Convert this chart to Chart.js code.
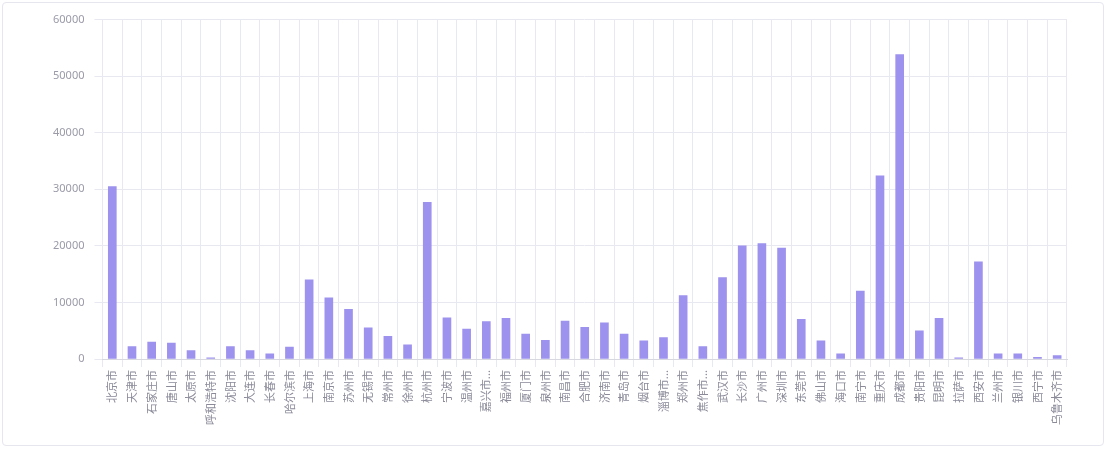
<!DOCTYPE html><html><head><meta charset="utf-8"><script src="https://cdn.jsdelivr.net/npm/chart.js@4"></script>
<style>body{margin:0;background:#fff}#w{position:absolute;left:2px;top:2px;width:1102px;height:444px;border:1px solid #e6e6ee;border-radius:4px;box-sizing:border-box}</style></head><body><div id="w"><canvas id="c"></canvas></div>
<script>
const categories=["北京市","天津市","石家庄市","唐山市","太原市","呼和浩特市","沈阳市","大连市","长春市","哈尔滨市","上海市","南京市","苏州市","无锡市","常州市","徐州市","杭州市","宁波市","温州市","嘉兴市...","福州市","厦门市","泉州市","南昌市","合肥市","济南市","青岛市","烟台市","淄博市...","郑州市","焦作市...","武汉市","长沙市","广州市","深圳市","东莞市","佛山市","海口市","南宁市","重庆市","成都市","贵阳市","昆明市","拉萨市","西安市","兰州市","银川市","西宁市","乌鲁木齐市"];
const values=[30500,2200,3000,2800,1500,200,2200,1500,900,2100,14000,10800,8800,5500,4000,2500,27700,7300,5300,6600,7200,4400,3300,6700,5600,6400,4400,3200,3800,11200,2200,14400,20000,20400,19600,7000,3200,900,12000,32400,53800,5000,7200,200,17200,900,900,300,600];
const yTicks=[0,10000,20000,30000,40000,50000,60000];
new Chart(document.getElementById('c'),{type:'bar',data:{labels:categories,datasets:[{data:values,backgroundColor:'#9d92ee',barThickness:8}]},
options:{responsive:true,maintainAspectRatio:false,animation:false,layout:{padding:{left:40,right:36,top:12,bottom:17}},
plugins:{legend:{display:false},tooltip:{enabled:false}},
scales:{x:{grid:{color:'#e8e8f0',offset:true},border:{color:'#d8d8e0'},ticks:{color:'#8a8a99',font:{family:'Noto Sans CJK SC',size:11},maxRotation:90,minRotation:90,autoSkip:false}},
y:{min:0,max:60000,afterBuildTicks:a=>{a.ticks=yTicks.map(v=>({value:v}))},grid:{color:'#e8e8f0'},border:{display:false},ticks:{color:'#9a9aa8',font:{family:'Noto Sans',size:11},padding:10,callback:v=>String(v)}}}}});
</script></body></html>
